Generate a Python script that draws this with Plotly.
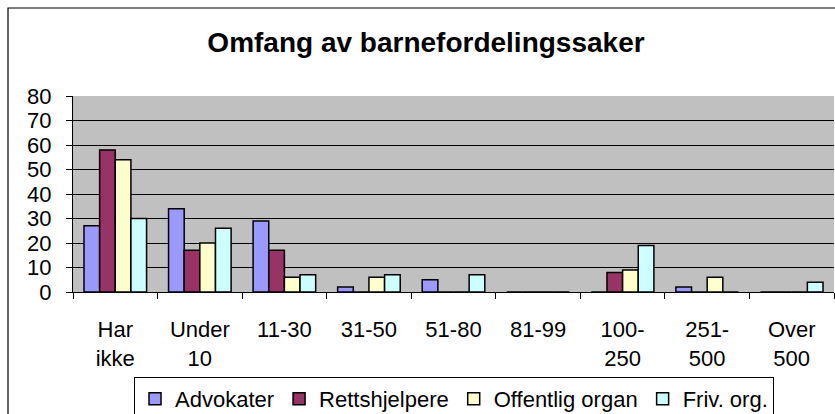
import plotly.graph_objects as go

categories = ["Har<br>ikke", "Under<br>10", "11-30", "31-50", "51-80", "81-99", "100-<br>250", "251-<br>500", "Over<br>500"]
advokater = [27, 34, 29, 2, 5, 0, 0, 2, 0]
rettshjelpere = [58, 17, 17, 0, 0, 0, 8, 0, 0]
offentlig_organ = [54, 20, 6, 6, 0, 0, 9, 6, 0]
friv_org = [30, 26, 7, 7, 7, 0, 19, 0, 4]

series_names = ["Advokater", "Rettshjelpere", "Offentlig organ", "Friv. org."]
series_values = [advokater, rettshjelpere, offentlig_organ, friv_org]
series_colors = ["#9999FF", "#993366", "#FFFFCC", "#CCFFFF"]

FONT = "Liberation Sans, Arial, sans-serif"

fig = go.Figure()
for name, vals, col in zip(series_names, series_values, series_colors):
    fig.add_trace(go.Bar(
        x=categories, y=vals, name=name,
        marker=dict(color=col, line=dict(color="black", width=1.5)),
    ))

W, H = 835, 414
L, R, T, B = 73, 1, 96, 122
pw = W - L - R
ph = H - T - B

def px_x(x):
    return (x - L) / pw

def px_y(y):
    return (H - B - y) / ph

fig.update_layout(
    width=W, height=H,
    margin=dict(l=L, r=R, t=T, b=B, pad=0, autoexpand=False),
    paper_bgcolor="white",
    plot_bgcolor="#C0C0C0",
    barmode="group",
    bargap=0.26,
    bargroupgap=0,
    font=dict(family=FONT, color="black", size=22),
    title=dict(
        text="<b>Omfang av barnefordelingssaker</b>",
        font=dict(family=FONT, size=28, color="black"),
        x=px_x(426), xref="paper", xanchor="center",
        y=1 - 42 / H, yref="container", yanchor="middle",
    ),
    showlegend=True,
    legend=dict(
        orientation="h",
        x=px_x(134), y=px_y(377), xanchor="left", yanchor="top",
        xref="paper", yref="paper",
        bgcolor="white", bordercolor="black", borderwidth=1,
        font=dict(family=FONT, size=22, color="black"),
        itemwidth=30,
        traceorder="normal",
    ),
    xaxis=dict(
        type="category",
        automargin=False,
        showgrid=False,
        showline=True, linecolor="black", linewidth=1,
        ticks="outside", tickson="boundaries", ticklen=6, tickcolor="black",
        tickfont=dict(family=FONT, size=22, color="black"),
        ticklabelstandoff=18,
        tickangle=0,
    ),
    yaxis=dict(
        automargin=False,
        range=[0, 80], dtick=10, tick0=0,
        showgrid=True, gridcolor="black", gridwidth=1,
        showline=True, linecolor="black", linewidth=1,
        ticks="outside", ticklen=6, tickcolor="black",
        tickfont=dict(family=FONT, size=22, color="black"),
        ticklabelstandoff=10,
        zeroline=False,
    ),
    shapes=[
        dict(type="rect", xref="paper", yref="paper",
             x0=px_x(8), x1=px_x(845), y0=px_y(425), y1=px_y(8),
             line=dict(color="black", width=1.2), fillcolor="rgba(0,0,0,0)",
             layer="below"),
    ],
)

fig.write_html(
    "out.html",
    config={"displayModeBar": False},
    post_script="document.body.style.margin='0';document.body.style.overflow='hidden';",
)
